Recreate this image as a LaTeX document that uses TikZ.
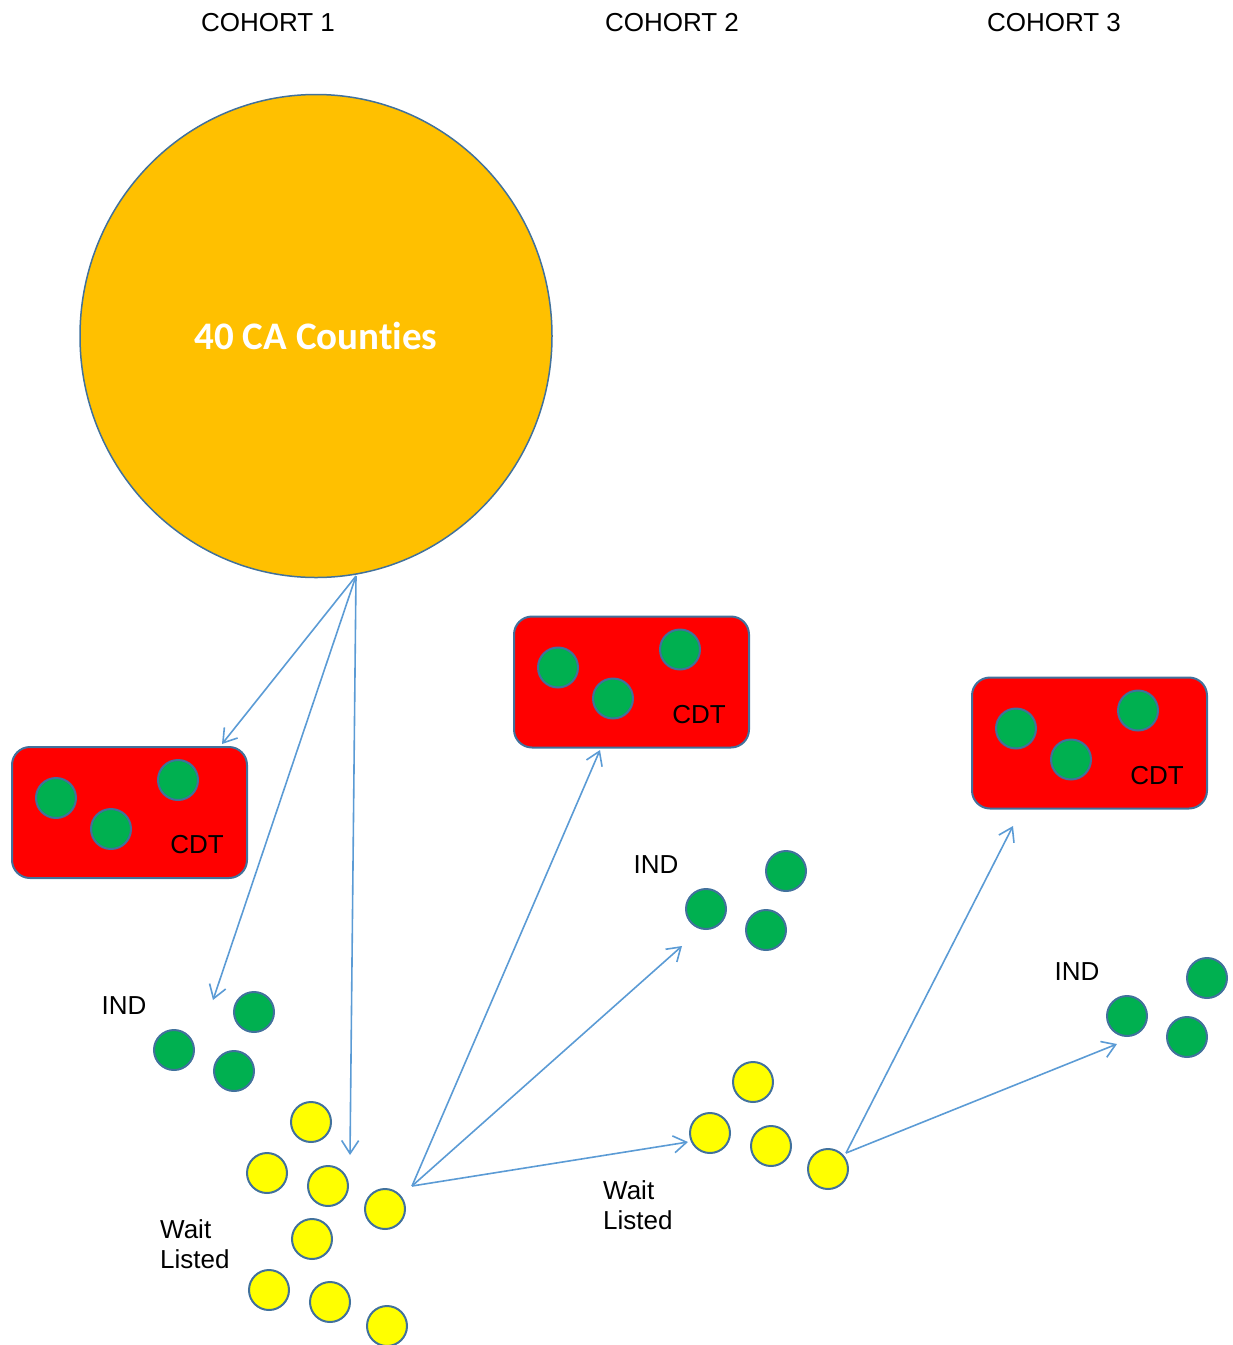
\documentclass[tikz,border=0pt]{standalone}
\usepackage{fontspec}
\setmainfont{Liberation Sans}
\newfontfamily\titelfont[Ligatures=NoCommon]{Carlito}
\usetikzlibrary{arrows.meta,shapes.geometric}
\definecolor{goldgelb}{RGB}{255,192,0}
\definecolor{knallrot}{RGB}{255,0,0}
\definecolor{gruen}{RGB}{0,176,80}
\definecolor{gelb}{RGB}{255,255,0}
\definecolor{rand}{RGB}{65,113,156}
\definecolor{pfeilblau}{RGB}{91,155,213}
\tikzset{
	punkt/.style={circle,draw=rand,line width=2pt,minimum size=40pt,inner sep=0},
	kasten/.style={rectangle,rounded corners=18pt,draw=rand,line width=2pt,fill=knallrot,
		minimum width=235pt,minimum height=131pt},
	schrift/.style={inner sep=0,font=\fontsize{26}{30}\selectfont},
	pfeil/.style={draw=pfeilblau,line width=1.6pt,-{Straight Barb[length=13pt,width=17pt]}}
}
% gruener und gelber Kreis: Name, x, y
\def\gruen#1#2#3{\node[punkt,fill=gruen] (#1) at (#2,#3) {};}
\def\gelb#1#2#3{\node[punkt,fill=gelb] (#1) at (#2,#3) {};}
% roter Kasten mit drei Kreisen und CDT
\def\cdt#1#2#3{
	\node[kasten] (#1) at (#2,#3) {};
	\gruen{#1a}{{#2-73.5}}{{#3-14.5}}
	\gruen{#1b}{{#2-18.5}}{{#3+16.5}}
	\gruen{#1c}{{#2+48.5}}{{#3-32.5}}
	\node[schrift] (#1t) at ({#2+67.5},{#3+32.5}) {CDT};
}
% IND mit drei Kreisen
\def\ind#1#2#3{
	\node[schrift] (#1) at (#2,#3) {IND};
	\gruen{#1a}{{#2+130}}{{#3+6}}
	\gruen{#1b}{{#2+50}}{{#3+44}}
	\gruen{#1c}{{#2+110}}{{#3+65}}
}

\begin{document}
\begin{tikzpicture}[x=1pt,y=-1pt]
\useasboundingbox (0,0) rectangle (1233,1345);

\node[schrift] (kohorte1) at (268,23) {COHORT 1};
\node[schrift] (kohorte2) at (672,23) {COHORT 2};
\node[schrift] (kohorte3) at (1054,23) {COHORT 3};

\node[ellipse,draw=rand,line width=1.5pt,fill=goldgelb,minimum width=472pt,minimum height=483pt,
	inner sep=0,text=white,font=\titelfont\bfseries\fontsize{39}{42}\selectfont] (counties) at (316,336) {40 CA Counties};

\cdt{cdt1}{129.5}{812.5}
\cdt{cdt2}{631.5}{682}
\cdt{cdt3}{1089.5}{743}

\ind{ind1}{124}{1006}
\ind{ind2}{656}{865}
\ind{ind3}{1077}{972}

\gelb{wa}{311}{1122}
\gelb{wb}{267}{1173}
\gelb{wc}{328}{1186}
\gelb{wd}{385}{1209}
\gelb{we}{312}{1239}
\gelb{wf}{269}{1290}
\gelb{wg}{330}{1302}
\gelb{wh}{387}{1326}
\node[schrift,anchor=west,align=left] (warte1) at (160,1244) {Wait\\Listed};

\gelb{va}{753}{1082}
\gelb{vb}{710}{1133}
\gelb{vc}{771}{1146}
\gelb{vd}{828}{1169}
\node[schrift,anchor=west,align=left] (warte2) at (603,1205) {Wait\\Listed};

\coordinate (quelle1) at (356,576);
\coordinate (quelle2) at (412,1186);
\coordinate (quelle3) at (846,1153);
\coordinate (ziel1) at (222,744);
\coordinate (ziel2) at (213,1000);
\coordinate (ziel3) at (350,1155);
\coordinate (ziel4) at (600,750);
\coordinate (ziel5) at (682,946);
\coordinate (ziel6) at (688,1142);
\coordinate (ziel7) at (1013,826);
\coordinate (ziel8) at (1117,1044);

\draw[pfeil] (quelle1) -- (ziel1);
\draw[pfeil] (quelle1) -- (ziel2);
\draw[pfeil] (quelle1) -- (ziel3);
\draw[pfeil] (quelle2) -- (ziel4);
\draw[pfeil] (quelle2) -- (ziel5);
\draw[pfeil] (quelle2) -- (ziel6);
\draw[pfeil] (quelle3) -- (ziel7);
\draw[pfeil] (quelle3) -- (ziel8);
\end{tikzpicture}
\end{document}
